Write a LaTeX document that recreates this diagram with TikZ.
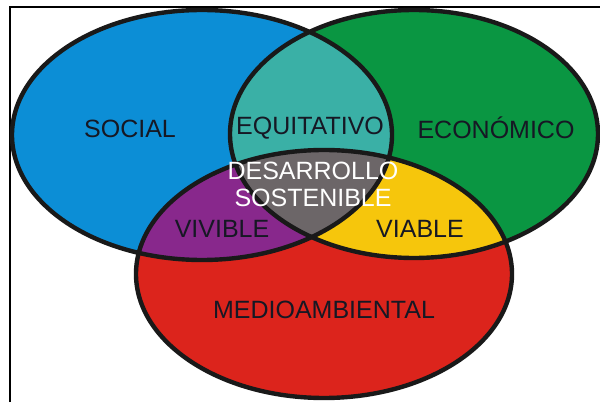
\documentclass[tikz,border=0pt]{standalone}
\usepackage{fontspec}
\setmainfont{Liberation Sans}

\definecolor{socialblue}{RGB}{12,142,214}
\definecolor{ecogreen}{RGB}{10,150,66}
\definecolor{envred}{RGB}{220,36,28}
\definecolor{eqteal}{RGB}{58,176,166}
\definecolor{vivpurple}{RGB}{136,40,140}
\definecolor{viayellow}{RGB}{246,198,12}
\definecolor{coregray}{RGB}{108,102,104}
\definecolor{inkdark}{RGB}{22,24,36}

\begin{document}
\begin{tikzpicture}[x=1pt, y=-1pt]
    % Define styles
    \tikzset{
        social/.style={
            insert path={(202,135) ellipse [x radius=190pt, y radius=125pt]}
        },
        economic/.style={
            insert path={(414,134) ellipse [x radius=184pt, y radius=124pt]}
        },
        environment/.style={
            insert path={(324,274) ellipse [x radius=188pt, y radius=124pt]}
        },
        rim/.style={
            draw=black!90,
            line width=4.4pt
        },
        label/.style={
            font=\fontsize{25}{27}\selectfont,
            text=inkdark,
            inner sep=0pt
        }
    }

    \useasboundingbox (0,0) rectangle (600,403);

    % Frame
    \draw[line width=1.2pt] (10,402) -- (10,7) -- (600,7);

    % The three spheres
    \fill[socialblue, social];
    \fill[ecogreen, economic];
    \fill[envred, environment];

    % Pairwise overlaps
    \begin{scope}
        \clip[social];
        \fill[eqteal, economic];
    \end{scope}
    \begin{scope}
        \clip[social];
        \fill[vivpurple, environment];
    \end{scope}
    \begin{scope}
        \clip[economic];
        \fill[viayellow, environment];
    \end{scope}

    % Common core
    \begin{scope}
        \clip[social];
        \clip[economic];
        \fill[coregray, environment];
    \end{scope}

    % Outlines
    \path[rim, social];
    \path[rim, economic];
    \path[rim, environment];

    % Labels
    \node[label] (soc) at (130,129) {SOCIAL};
    \node[label] (equ) at (310,128) {EQUITATIVO};
    \node[label] (eco) at (496,128) {ECONÓMICO};
    \node[label, text=white, align=center] (des) at (313,184) {DESARROLLO\\SOSTENIBLE};
    \node[label] (viv) at (222,229) {VIVIBLE};
    \node[label] (via) at (420,229) {VIABLE};
    \node[label] (med) at (324,310) {MEDIOAMBIENTAL};

\end{tikzpicture}
\end{document}
